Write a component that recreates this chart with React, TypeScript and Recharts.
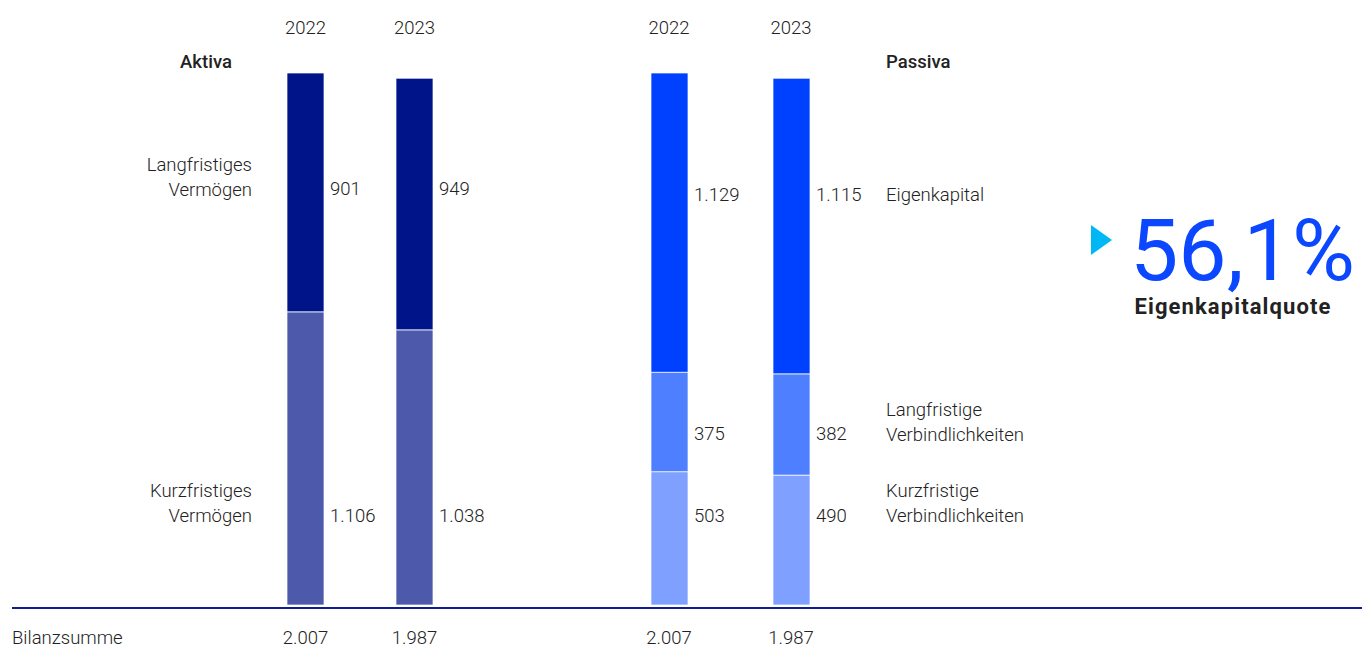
import { BarChart, Bar, XAxis, YAxis, LabelList } from "recharts";

const years = ["2022", "2023"];
const aktivaLangfristig = [901, 949];
const aktivaKurzfristig = [1106, 1038];
const passivaEigenkapital = [1129, 1115];
const passivaLangfristig = [375, 382];
const passivaKurzfristig = [503, 490];
const eigenkapitalquote = 56.1;

const fmt = (v: number) => String(v).replace(/\B(?=(\d{3})+(?!\d))/g, ".");

const aktivaData = years.map((year, i) => ({
  year,
  kurz: aktivaKurzfristig[i],
  lang: aktivaLangfristig[i],
  total: fmt(aktivaKurzfristig[i] + aktivaLangfristig[i]),
}));

const passivaData = years.map((year, i) => ({
  year,
  kurz: passivaKurzfristig[i],
  lang: passivaLangfristig[i],
  ek: passivaEigenkapital[i],
  total: fmt(passivaKurzfristig[i] + passivaLangfristig[i] + passivaEigenkapital[i]),
}));

const maxTotal = Math.max(
  ...years.map((_, i) => aktivaKurzfristig[i] + aktivaLangfristig[i]),
  ...years.map((_, i) => passivaKurzfristig[i] + passivaLangfristig[i] + passivaEigenkapital[i])
);

const FONT = "Roboto, sans-serif";
const TEXT = "#222";
const FS = 18.5;

const valueLabel = (cy: number) => (props: any) => {
  const { x, width, value } = props;
  return (
    <text
      x={Number(x) + Number(width) + 6}
      y={cy}
      dominantBaseline="central"
      fontFamily={FONT}
      fontWeight={300}
      fontSize={FS}
      fill={TEXT}
    >
      {fmt(Number(value))}
    </text>
  );
};

const tickAt = (dy: number) => (props: any) => {
  const { x, y, payload } = props;
  return (
    <text
      x={x}
      y={Number(y) + dy}
      textAnchor="middle"
      dominantBaseline="central"
      fontFamily={FONT}
      fontWeight={300}
      fontSize={FS}
      fill={TEXT}
    >
      {payload.value}
    </text>
  );
};

type Series = { key: string; color: string; labelY: number };

const aktivaSeries: Series[] = [
  { key: "kurz", color: "#4D5AAB", labelY: 516 },
  { key: "lang", color: "#001489", labelY: 189 },
];

const passivaSeries: Series[] = [
  { key: "kurz", color: "#80A0FF", labelY: 516 },
  { key: "lang", color: "#4D7FFF", labelY: 434 },
  { key: "ek", color: "#0041FF", labelY: 195 },
];

function StackChart({ data, series, width }: { data: any[]; series: Series[]; width: number }) {
  return (
    <BarChart width={width} height={646} data={data} margin={{ top: 43, right: 0, bottom: 11, left: 0 }}>
      <XAxis
        xAxisId="year"
        dataKey="year"
        orientation="top"
        height={30}
        axisLine={false}
        tickLine={false}
        tick={tickAt(-37)}
        interval={0}
      />
      <XAxis
        xAxisId="total"
        dataKey="total"
        orientation="bottom"
        height={30}
        axisLine={false}
        tickLine={false}
        tick={tickAt(25)}
        interval={0}
      />
      <YAxis hide domain={[0, maxTotal]} />
      {series.map((s) => (
        <Bar
          key={s.key}
          xAxisId="year"
          dataKey={s.key}
          stackId="a"
          fill={s.color}
          stroke="#ffffff"
          strokeOpacity={0.7}
          strokeWidth={1}
          barSize={37}
          isAnimationActive={false}
        >
          <LabelList dataKey={s.key} content={valueLabel(s.labelY)} />
        </Bar>
      ))}
    </BarChart>
  );
}

const textStyle: React.CSSProperties = {
  position: "absolute",
  fontFamily: FONT,
  fontWeight: 300,
  fontSize: FS,
  lineHeight: "24.5px",
  color: TEXT,
  whiteSpace: "nowrap",
};

export default function App() {
  return (
    <div style={{ position: "relative", width: 1362, height: 646, background: "#fff", overflow: "hidden" }}>
      <style>{`body{margin:0} .recharts-surface{overflow:visible}`}</style>
      <div style={{ position: "absolute", left: 251, top: 0 }}>
        <StackChart data={aktivaData} series={aktivaSeries} width={218} />
      </div>
      <div style={{ position: "absolute", left: 608, top: 0 }}>
        <StackChart data={passivaData} series={passivaSeries} width={244} />
      </div>

      <svg width={1362} height={646} style={{ position: "absolute", left: 0, top: 0, pointerEvents: "none" }}>
        <line x1={12} x2={1362} y1={608} y2={608} stroke="#0E1F8C" strokeWidth={2} />
        <text x={206} y={62} textAnchor="middle" dominantBaseline="central" fontFamily={FONT} fontWeight={500} fontSize={FS} fill={TEXT}>
          Aktiva
        </text>
        <text x={886} y={62} dominantBaseline="central" fontFamily={FONT} fontWeight={500} fontSize={FS} fill={TEXT}>
          Passiva
        </text>
        <polygon points="1091,225 1112,240 1091,255" fill="#00B8F5" />
        <text x={1130} y={280} fontFamily={FONT} fontWeight={400} fontSize={86} fill="#0A47FF">
          {String(eigenkapitalquote).replace(".", ",")}%
        </text>
        <text
          x={1233}
          y={306}
          textAnchor="middle"
          dominantBaseline="central"
          fontFamily={FONT}
          fontWeight={700}
          fontSize={22}
          letterSpacing={1.1}
          fill={TEXT}
        >
          Eigenkapitalquote
        </text>
      </svg>

      <div style={{ ...textStyle, right: 1362 - 252, top: 153, textAlign: "right" }}>
        Langfristiges
        <br />
        Vermögen
      </div>
      <div style={{ ...textStyle, right: 1362 - 252, top: 479, textAlign: "right" }}>
        Kurzfristiges
        <br />
        Vermögen
      </div>
      <div style={{ ...textStyle, left: 886, top: 183 }}>Eigenkapital</div>
      <div style={{ ...textStyle, left: 886, top: 398 }}>
        Langfristige
        <br />
        Verbindlichkeiten
      </div>
      <div style={{ ...textStyle, left: 886, top: 479 }}>
        Kurzfristige
        <br />
        Verbindlichkeiten
      </div>
      <div style={{ ...textStyle, left: 12, top: 626 }}>Bilanzsumme</div>
    </div>
  );
}
